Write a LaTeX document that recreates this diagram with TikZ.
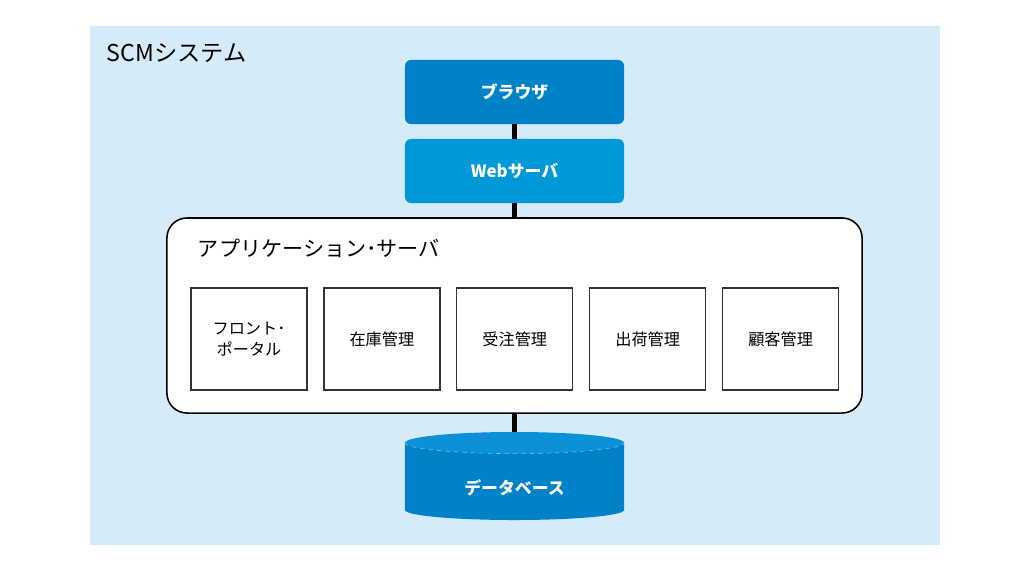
\documentclass[tikz,border=0pt]{standalone}
\usepackage{fontspec}
\setmainfont{Noto Sans CJK JP}
\usetikzlibrary{positioning}
\definecolor{bgblue}{HTML}{D5EBF8}
\definecolor{darkblue}{HTML}{0082C9}
\definecolor{midblue}{HTML}{0098D9}
\definecolor{topblue}{HTML}{0A91D8}

\begin{document}
\begin{tikzpicture}[
    x=0.025cm, y=-0.025cm,
    tier/.style={minimum width=5.475cm, minimum height=1.6cm, rounded corners=0.15cm,
      text=white, font=\fontsize{12}{14}\selectfont\bfseries, inner sep=0pt},
    module/.style={draw=black!80, line width=0.9pt, fill=white, minimum width=2.9cm,
      minimum height=2.55cm, align=center, font=\fontsize{11.5}{15}\selectfont, inner sep=0pt},
    link/.style={line width=3.4pt, black}
    ]
    \useasboundingbox (0,0) rectangle (1030,573);
    \fill[bgblue] (90,26) rectangle (940,545);
    \node[anchor=west, font=\fontsize{16.5}{18}\selectfont] (scm) at (102,53) {SCMシステム};

    \node[tier, fill=darkblue] (browser) at (514.5,92) {ブラウザ};
    \node[tier, fill=midblue] (web) at (514.5,171) {Webサーバ};
    \node[draw, line width=1.1pt, fill=white, rounded corners=0.5cm,
      minimum width=17.375cm, minimum height=4.875cm] (app) at (514.5,315.5) {};
    \node[anchor=west, font=\fontsize{15}{17}\selectfont] (apptitle) at (193,248) {アプリケーション･サーバ};

    \node[module] (portal) at (249,339) {フロント･\\ポータル};
    \node[module, right=0.39cm of portal] (stock) {在庫管理};
    \node[module, right=0.39cm of stock] (order) {受注管理};
    \node[module, right=0.39cm of order] (ship) {出荷管理};
    \node[module, right=0.39cm of ship] (customer) {顧客管理};

    \node[minimum width=5.475cm, minimum height=2.2cm, inner sep=0pt, text=white,
      font=\fontsize{12}{14}\selectfont\bfseries,
      path picture={
        \fill[darkblue] ([yshift=-0.27cm]path picture bounding box.north west)
          -- ([yshift=0.25cm]path picture bounding box.south west)
          arc[start angle=180, end angle=360, x radius=2.7375cm, y radius=0.25cm]
          -- ([yshift=-0.27cm]path picture bounding box.north east) -- cycle;
        \fill[topblue] ([yshift=-0.27cm]path picture bounding box.north)
          ellipse[x radius=2.7375cm, y radius=0.27cm];
        \draw[white!45!topblue, dashed, line width=0.4pt]
          ([yshift=-0.27cm]path picture bounding box.north west)
          arc[start angle=180, end angle=360, x radius=2.7375cm, y radius=0.27cm];
      }] (db) at (514.5,476) {\raisebox{-0.3cm}[\height][\depth]{データベース}};

    \draw[link] (browser) -- (web);
    \draw[link] (web) -- (app);
    \draw[link] (app) -- (db);
\end{tikzpicture}
\end{document}
